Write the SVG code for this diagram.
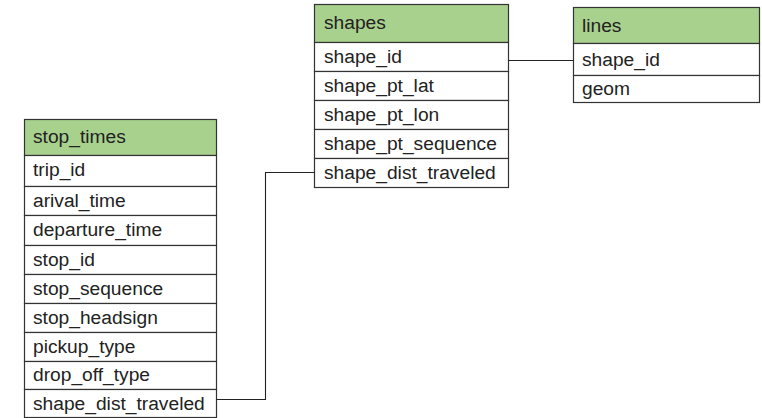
<svg xmlns="http://www.w3.org/2000/svg" width="762" height="418" viewBox="0 0 762 418">
<style>
.hdr{fill:#a9d18e;stroke:#333;stroke-width:1.2}
.row{fill:#fff;stroke:#333;stroke-width:1.2}
text{font-family:"Liberation Sans",Arial,sans-serif;font-size:19.2px;fill:#222}
.conn{fill:none;stroke:#222;stroke-width:1.1}
</style>
<rect width="762" height="418" fill="#fff"/>
<g id="shapes">
<rect class="hdr" x="314.5" y="4.5" width="194" height="38"/>
<rect class="row" x="314.5" y="42.5" width="194" height="29"/>
<rect class="row" x="314.5" y="71.5" width="194" height="29"/>
<rect class="row" x="314.5" y="100.5" width="194" height="29"/>
<rect class="row" x="314.5" y="129.5" width="194" height="29"/>
<rect class="row" x="314.5" y="158.5" width="194" height="29"/>
<text x="324" y="29">shapes</text>
<text x="324" y="63">shape_id</text>
<text x="324" y="92">shape_pt_lat</text>
<text x="324" y="121">shape_pt_lon</text>
<text x="324" y="150">shape_pt_sequence</text>
<text x="324" y="179">shape_dist_traveled</text>
</g>
<g id="lines">
<rect class="hdr" x="573.5" y="7.5" width="186" height="36"/>
<rect class="row" x="573.5" y="43.5" width="186" height="32"/>
<rect class="row" x="573.5" y="75.5" width="186" height="27"/>
<text x="582" y="32">lines</text>
<text x="582" y="66">shape_id</text>
<text x="582" y="95">geom</text>
</g>
<g id="stop_times">
<rect class="hdr" x="24.5" y="119.5" width="192" height="36"/>
<rect class="row" x="24.5" y="155.5" width="192" height="31"/>
<rect class="row" x="24.5" y="186.5" width="192" height="29"/>
<rect class="row" x="24.5" y="215.5" width="192" height="30"/>
<rect class="row" x="24.5" y="245.5" width="192" height="29"/>
<rect class="row" x="24.5" y="274.5" width="192" height="29"/>
<rect class="row" x="24.5" y="303.5" width="192" height="29"/>
<rect class="row" x="24.5" y="332.5" width="192" height="29"/>
<rect class="row" x="24.5" y="361.5" width="192" height="28"/>
<rect class="row" x="24.5" y="389.5" width="192" height="28"/>
<text x="33" y="143">stop_times</text>
<text x="33" y="176">trip_id</text>
<text x="33" y="207">arival_time</text>
<text x="33" y="236">departure_time</text>
<text x="33" y="266">stop_id</text>
<text x="33" y="295">stop_sequence</text>
<text x="33" y="324">stop_headsign</text>
<text x="33" y="353">pickup_type</text>
<text x="33" y="381">drop_off_type</text>
<text x="33" y="410">shape_dist_traveled</text>
</g>
<g id="connectors">
<polyline class="conn" points="508.5,60.5 573.5,60.5"/>
<polyline class="conn" points="216.5,399.5 265.5,399.5 265.5,172.5 314.5,172.5"/>
</g>
</svg>
